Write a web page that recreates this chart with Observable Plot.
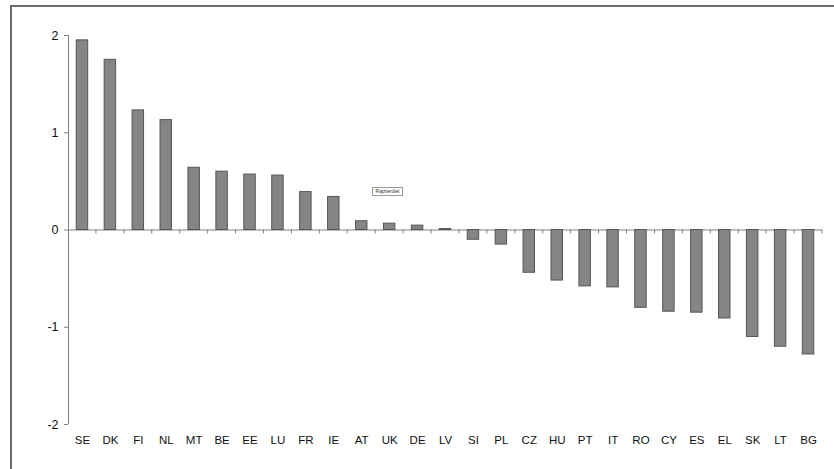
<!DOCTYPE html>
<html><head><meta charset="utf-8">
<script src="https://cdn.jsdelivr.net/npm/d3@7"></script>
<script src="https://cdn.jsdelivr.net/npm/@observablehq/plot@0.6"></script>
<style>
body{margin:0;background:#fff;}
#wrap{position:relative;width:834px;height:469px;overflow:hidden;background:#fff;}
#frame{position:absolute;left:10px;top:5px;width:900px;height:600px;border-left:2px solid #6e6e6e;border-top:2px solid #6e6e6e;pointer-events:none;}
#tip{position:absolute;left:372px;top:187px;width:29px;height:7px;border:1px solid #9a9a9a;background:#fff;font:5px 'Liberation Sans',Arial,sans-serif;line-height:7px;text-align:center;color:#333;white-space:nowrap;overflow:hidden;}
#chart{position:absolute;left:0;top:0;}
</style>
</head><body>
<div id="wrap"><div id="chart"></div><div id="frame"></div><div id="tip">Rajzterület</div></div>
<script>
const countries = ["SE","DK","FI","NL","MT","BE","EE","LU","FR","IE","AT","UK","DE","LV","SI","PL","CZ","HU","PT","IT","RO","CY","ES","EL","SK","LT","BG"];
const values = [1.95,1.75,1.23,1.13,0.64,0.60,0.57,0.56,0.39,0.34,0.09,0.065,0.045,0.01,-0.10,-0.15,-0.44,-0.52,-0.58,-0.59,-0.80,-0.84,-0.85,-0.91,-1.10,-1.20,-1.28];
const yTicks = [-2,-1,0,1,2];

const data = countries.map((c,i)=>({country:c, value:values[i]}));

const chart = Plot.plot({
  width: 834, height: 469,
  marginLeft: 68, marginRight: 12, marginTop: 35, marginBottom: 45,
  style: {fontFamily: "'Liberation Sans', Arial, sans-serif", background: "transparent"},
  x: {domain: countries, paddingInner: 0.59, paddingOuter: 0.295, align: 0.5, round: false, label: null},
  y: {domain: [-2, 2], label: null},
  marks: [
    Plot.ruleY([0], {stroke: "#808080", strokeWidth: 1}),
    Plot.barY(data, {x: "country", y: "value", fill: "#858585", stroke: "#555", strokeWidth: 1}),
    Plot.axisY({ticks: yTicks, tickSize: 4, text: null, label: null, stroke: "#808080", strokeOpacity: 1}),
    Plot.axisY({ticks: yTicks, tickSize: 0, tickPadding: 10, fontSize: 12.5, fill: "#111", label: null, tickFormat: d => d < 0 ? "-" + Math.abs(d) : String(d)}),
    Plot.axisX({tickSize: 0, tickPadding: 11, fontSize: 11.5, fill: "#111", label: null})
  ]
});
document.getElementById("chart").appendChild(chart);

const xs = chart.scale("x"), ys = chart.scale("y");
const svg = d3.select(chart);
const y0 = ys.apply(0);
const g = svg.append("g").attr("stroke", "#808080").attr("stroke-width", 1);
// y axis line
g.append("line").attr("x1", 68.5).attr("x2", 68.5).attr("y1", ys.apply(2)).attr("y2", ys.apply(-2));
// x tick marks at category boundaries
countries.forEach(c => {
  const bx = xs.apply(c) + xs.bandwidth / 2 + xs.step / 2;
  g.append("line").attr("x1", bx).attr("x2", bx).attr("y1", y0).attr("y2", y0 + 4);
});
</script>
</body></html>
